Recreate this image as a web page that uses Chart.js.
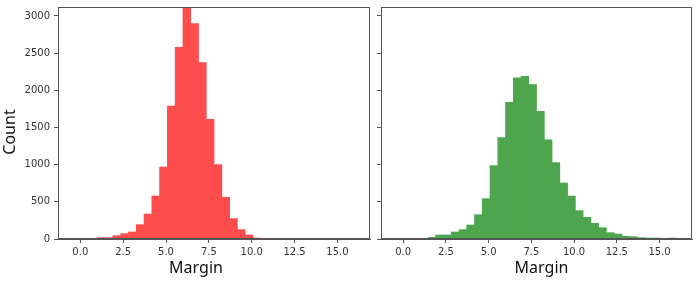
<!DOCTYPE html>
<html>
<head>
<meta charset="utf-8">
<script src="https://cdn.jsdelivr.net/npm/chart.js@4/dist/chart.umd.min.js"></script>
<style>
  html, body { margin: 0; padding: 0; background: #fff; }
  #wrap { position: relative; width: 698px; height: 283px; overflow: hidden; }
  .box { position: absolute; top: 0; height: 283px; }
</style>
</head>
<body>
<div id="wrap">
  <div class="box" style="left:0;width:372px"><canvas id="left"></canvas></div>
  <div class="box" style="left:372px;width:326px"><canvas id="right"></canvas></div>
</div>
<script>
// bin centres (same bins for both panels)
const binCenters = [0.767, 1.221, 1.675, 2.129, 2.583, 3.037, 3.491, 3.945, 4.399, 4.853,
  5.307, 5.761, 6.215, 6.669, 7.123, 7.577, 8.031, 8.485, 8.939, 9.393, 9.847, 10.301,
  10.755, 11.209, 11.663, 12.117, 12.571, 13.025, 13.479, 13.933, 14.387, 14.841, 15.295, 15.749]

const redCounts = [9, 18, 18, 45, 72, 94, 193, 336, 578, 968, 1789, 2578, 3200, 2897,
  2372, 1610, 1000, 561, 274, 126, 54, 13]

const greenCounts = [4, 9, 22, 54, 54, 94, 126, 188, 327, 543, 987, 1363, 1839, 2166, 2188,
  2076, 1717, 1332, 1027, 753, 578, 381, 291, 211, 152, 85, 67, 36, 31, 18, 13, 13, 4, 13]

const xTicks = [0, 2.5, 5, 7.5, 10, 12.5, 15]
const yTicks = [0, 500, 1000, 1500, 2000, 2500, 3000]

const xMin = -1.3, xMax = 16.9
const yMax = 3120

const spineColor = '#555'
const tickFont = { family: 'DejaVu Sans', size: 10 }
const titleFont = { family: 'Noto Sans', size: 16 }

// matplotlib-style box around the plot
const frame = {
  id: 'frame',
  afterDraw(chart) {
    const { ctx, chartArea: a } = chart
    ctx.save()
    ctx.strokeStyle = spineColor
    ctx.lineWidth = 1
    ctx.strokeRect(Math.round(a.left) + 0.5, Math.round(a.top) + 0.5,
      Math.round(a.right - a.left) - 1, Math.round(a.bottom - a.top) - 1)
    ctx.restore()
  }
}

// axis labels are not quite centred in the original, so draw them by hand
const axisLabels = {
  id: 'axisLabels',
  afterDraw(chart, args, opts) {
    const { ctx, chartArea: a } = chart
    ctx.save()
    ctx.font = `${titleFont.size}px "${titleFont.family}"`
    ctx.fillStyle = '#111'
    ctx.textAlign = 'center'
    ctx.textBaseline = 'middle'
    ctx.fillText(opts.xText, (a.left + a.right) / 2 + opts.xShift, chart.height - 15)
    if (opts.yText) {
      ctx.translate(10.5, (a.top + a.bottom) / 2 + 9)
      ctx.rotate(-Math.PI / 2)
      ctx.fillText(opts.yText, 0, 0)
    }
    ctx.restore()
  }
}

function makeChart(id, counts, color, showY, yWidth, padRight, xShift) {
  const points = counts.map((c, i) => ({ x: binCenters[i], y: c }))
  return new Chart(document.getElementById(id), {
    type: 'bar',
    data: {
      datasets: [{
        data: points,
        backgroundColor: color,
        borderWidth: 0,
        barPercentage: 1,
        categoryPercentage: 1
      }]
    },
    options: {
      responsive: true,
      maintainAspectRatio: false,
      animation: false,
      layout: { padding: { top: 7, right: padRight, left: 0, bottom: 0 } },
      plugins: {
        legend: { display: false },
        tooltip: { enabled: false },
        axisLabels: { xText: 'Margin', xShift: xShift, yText: showY ? 'Count' : '' }
      },
      scales: {
        x: {
          type: 'linear',
          min: xMin,
          max: xMax,
          offset: false,
          afterBuildTicks: s => { s.ticks = xTicks.map(v => ({ value: v })) },
          afterFit: s => { s.height = 44; s.paddingLeft = 0; s.paddingRight = 0 },
          border: { display: true, color: spineColor },
          grid: { offset: false, drawOnChartArea: false, drawTicks: true, tickLength: 4, tickColor: spineColor },
          ticks: {
            maxRotation: 0,
            autoSkip: false,
            padding: 3,
            color: '#333',
            font: tickFont,
            callback: v => Number(v).toFixed(1)
          },
          title: { display: false }
        },
        y: {
          min: 0,
          max: yMax,
          afterBuildTicks: s => { s.ticks = yTicks.map(v => ({ value: v })) },
          afterFit: s => { s.width = yWidth; s.paddingTop = 0; s.paddingBottom = 0 },
          border: { display: true, color: spineColor },
          grid: { drawOnChartArea: false, drawTicks: true, tickLength: 4, tickColor: spineColor },
          ticks: {
            display: showY,
            padding: 4,
            color: '#333',
            font: tickFont,
            callback: v => String(v)
          },
          title: { display: false }
        }
      }
    },
    plugins: [frame, axisLabels]
  })
}

makeChart('left', redCounts, 'rgba(255, 77, 77, 1)', true, 58, 2, -18)
makeChart('right', greenCounts, 'rgba(77, 166, 77, 1)', false, 9, 6, 5)
</script>
</body>
</html>
